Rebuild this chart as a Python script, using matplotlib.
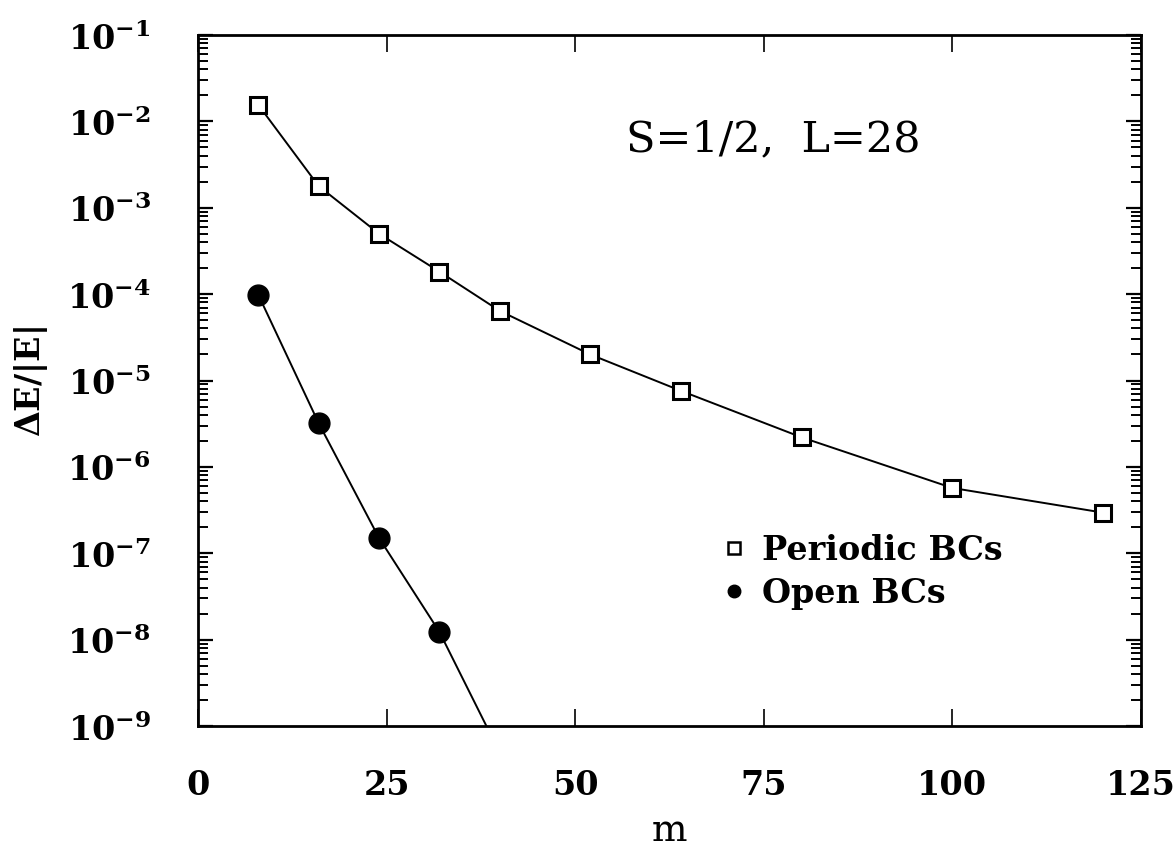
import matplotlib
matplotlib.use('Agg')
import matplotlib.pyplot as plt
from matplotlib.lines import Line2D
from matplotlib.ticker import FixedLocator, LogLocator, NullLocator, FixedFormatter

# DMRG truncation error vs. number of kept states m
m_periodic = [8, 16, 24, 32, 40, 52, 64, 80, 100, 120]
err_periodic = [1.55e-2, 1.78e-3, 5.0e-4, 1.82e-4, 6.4e-5, 2.0e-5, 7.6e-6, 2.2e-6, 5.7e-7, 2.95e-7]

m_open = [8, 16, 24, 32]
err_open = [9.8e-5, 3.2e-6, 1.5e-7, 1.23e-8]
# the open-BC curve keeps going past the last point and leaves through the bottom
m_open_tail = [32, 40]
err_open_tail = [1.23e-8, 4.9e-10]

x_ticks = [0, 25, 50, 75, 100, 125]
y_exponents = [-9, -8, -7, -6, -5, -4, -3, -2, -1]

plt.rcParams['font.family'] = 'DejaVu Serif'
plt.rcParams['mathtext.fontset'] = 'dejavuserif'

W, H = 1175, 854
fig = plt.figure(figsize=(W / 100, H / 100), dpi=100)
ax = fig.add_axes([198 / W, 1 - 727 / H, (1141 - 198) / W, (727 - 36) / H])

ax.plot(m_periodic, err_periodic, color='k', lw=1.4, marker='s', ms=11.5,
        mfc='white', mec='k', mew=2.2, zorder=3)
ax.plot(m_open_tail, err_open_tail, color='k', lw=1.4, zorder=2)
ax.plot(m_open, err_open, color='k', lw=1.4, marker='o', ms=15,
        mfc='k', mec='k', zorder=3)

ax.set_yscale('log')
ax.set_xlim(0, 125)
ax.set_ylim(1e-9, 1e-1)

# ticks
ax.xaxis.set_major_locator(FixedLocator(x_ticks))
ax.xaxis.set_minor_locator(NullLocator())
ax.set_xticklabels([str(t) for t in x_ticks])
ax.yaxis.set_major_locator(FixedLocator([10.0 ** e for e in y_exponents]))
ax.yaxis.set_major_formatter(FixedFormatter([r'$\mathbf{10^{%d}}$' % e for e in y_exponents]))
ax.yaxis.set_minor_locator(LogLocator(base=10, subs=range(2, 10), numticks=20))

ax.tick_params(axis='x', which='major', direction='in', length=12, width=1.2,
               top=True, bottom=True, labelsize=24, pad=30)
ax.tick_params(axis='y', which='major', direction='in', length=11, width=1.6,
               left=True, right=True, labelsize=24, pad=34)
ax.tick_params(axis='y', which='minor', direction='in', length=7, width=1.4,
               left=True, right=True)
for lab in ax.get_xticklabels():
    lab.set_fontweight('bold')

for sp in ax.spines.values():
    sp.set_linewidth(2)

ax.set_xlabel('m', fontsize=27, labelpad=8)
ax.set_ylabel(r'$\mathbf{\Delta E/|E|}$', fontsize=24, labelpad=12)

ax.text(0.61, 0.85, 'S=1/2,  L=28', transform=ax.transAxes,
        ha='center', va='center', fontsize=31)

handles = [
    Line2D([], [], ls='none', marker='s', ms=8, mfc='white', mec='k', mew=1.8),
    Line2D([], [], ls='none', marker='o', ms=9, mfc='k', mec='k'),
]
ax.legend(handles, ['Periodic BCs', 'Open BCs'], loc='upper left',
          bbox_to_anchor=(0.522, 0.322), frameon=False, handlelength=0.8,
          handletextpad=0.45, labelspacing=0.3,
          prop={'family': 'DejaVu Serif', 'weight': 'bold', 'size': 24})

fig.savefig('out.png', dpi=100)
